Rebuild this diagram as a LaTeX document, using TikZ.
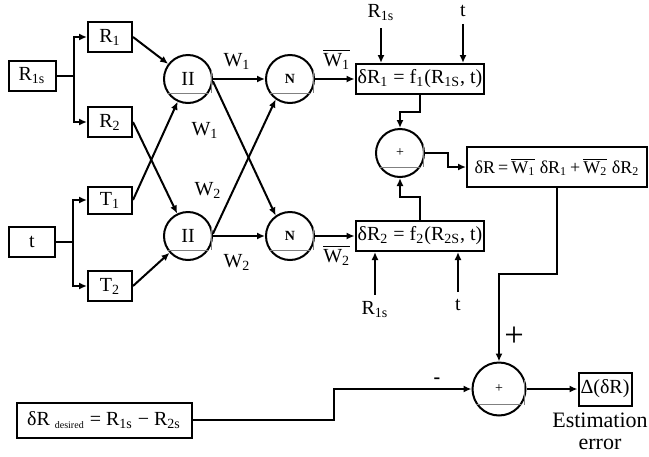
\documentclass[tikz,border=0pt]{standalone}
\usepackage{fontspec}
\setmainfont{Liberation Serif}
\usetikzlibrary{arrows.meta}
\tikzset{
  blk/.style={draw, line width=1pt, inner sep=1pt, minimum height=15pt},
  ring/.style={draw, circle, line width=1pt, minimum size=24pt, inner sep=0pt},
  arr/.style={line width=1pt, -{Latex[length=4pt,width=3.5pt]}},
  chord/.style={gray, line width=0.6pt},
}
\newcommand{\wbar}[1]{$\overline{\hbox{W\textsubscript{#1}}}$}

\begin{document}
\begin{tikzpicture}[x=0.5pt,y=-0.5pt]
\useasboundingbox (0,0) rectangle (649,456);
% inputs and their copies
\node[blk, minimum width=23.5pt] (R1s) at (32,76) {R\textsubscript{1s}};
\node[blk, minimum width=23pt] (tin) at (32,242) {t};
\node[blk, minimum width=22pt] (R1) at (110,37) {R\textsubscript{1}};
\node[blk, minimum width=22pt] (R2) at (110,122) {R\textsubscript{2}};
\node[blk, minimum width=22pt, minimum height=13.5pt] (T1) at (110,200) {T\textsubscript{1}};
\node[blk, minimum width=22pt] (T2) at (110,286) {T\textsubscript{2}};
\foreach \a/\b in {R1s/R1, R1s/R2, tin/T1, tin/T2}
  { \draw[arr] (\a.east) -- ++(17,0) |- (\b.west); }

% product and normalising units
\node[ring] (P1) at (188,79) {II};
\node[ring] (P2) at (188,236) {II};
\node[ring, font=\bfseries\scriptsize] (N1) at (290,79) {N};
\node[ring, font=\bfseries\scriptsize] (N2) at (290,236) {N};
\draw[arr] (R1.east) -- (P1);
\draw[arr] (T1.east) -- (P1);
\draw[arr] (R2.east) -- (P2);
\draw[arr] (T2.east) -- (P2);
\draw[arr] (P1.east) -- (N1.west);
\draw[arr] (P1.-5) -- (N2.125);
\draw[arr] (P2.5) -- (N1.-125);
\draw[arr] (P2.east) -- (N2.west);
\node (w1a) at (237,61) {W\textsubscript{1}};
\node (w1b) at (205,130) {W\textsubscript{1}};
\node (w2a) at (208,190) {W\textsubscript{2}};
\node (w2b) at (237,262) {W\textsubscript{2}};

% sub models
\node[blk, minimum width=62pt] (f1) at (420,79) {δR\textsubscript{1} = f\textsubscript{1}(R\textsubscript{1S}, t)};
\node[blk, minimum width=62pt] (f2) at (420,236) {δR\textsubscript{2} = f\textsubscript{2}(R\textsubscript{2S}, t)};
\draw[arr] (N1.east) -- (f1.west) node[pos=0.55, above=1pt] (wb1) {\wbar{1}};
\draw[arr] (N2.east) -- (f2.west) node[pos=0.55, below=1pt] (wb2) {\wbar{2}};
\node (R1top) at (381,13) {R\textsubscript{1s}};
\node (ttop) at (463,11) {t};
\node (R1bot) at (375,310) {R\textsubscript{1s}};
\node (tbot) at (458,305) {t};
\draw[arr] (R1top.south) -- (R1top.south |- f1.north);
\draw[arr] (ttop.south) -- (ttop.south |- f1.north);
\draw[arr] (R1bot.north) -- (R1bot.north |- f2.south);
\draw[arr] (tbot.north) -- (tbot.north |- f2.south);

% weighted sum
\node[ring, font=\scriptsize] (S1) at (400,153) {+};
\node[blk, minimum width=90pt, minimum height=20pt, inner sep=0.5pt, font=\fontsize{9}{10}\selectfont] (dR) at (557,167)
  {δR\,=\,\wbar{1}\ δR\textsubscript{1}\,+\,\wbar{2}\ δR\textsubscript{2}};
\draw[arr] (f1.south) -- ++(0,17) -| (S1.north);
\draw[arr] (f2.north) -- ++(0,-23) -| (S1.south);
\draw[arr] (S1.east) -- ++(23,0) |- (dR.west);

% error
\node[ring, font=\scriptsize, minimum size=26.5pt] (S2) at (499,389) {+};
\node[blk, minimum width=87.5pt, minimum height=17.5pt] (des) at (104,420)
  {δR \textsubscript{\tiny desired} = R\textsubscript{1s} − R\textsubscript{2s}};
\node[blk, minimum width=26.5pt, minimum height=16.5pt] (Dd) at (605,389) {Δ(δR)};
\node[align=center, font=\fontsize{11}{11}\selectfont] (est) at (600,431) {Estimation\\error};
\draw[arr] (dR.south) -- ++(0,86) -| (S2.north);
\draw[arr] (des.east) -- ++(141,0) |- (S2.west);
\draw[arr] (S2.east) -- (Dd.west);
\node[font=\LARGE] (plus) at (514,337) {+};
\node[font=\bfseries] (minus) at (437,381) {-};

\foreach \c in {P1,P2,N1,N2,S1,S2}
  { \draw[chord] (\c.-145) -- (\c.-35); \draw[chord] (\c.20) -- (\c.20 |- \c.-35); }
\end{tikzpicture}
\end{document}
